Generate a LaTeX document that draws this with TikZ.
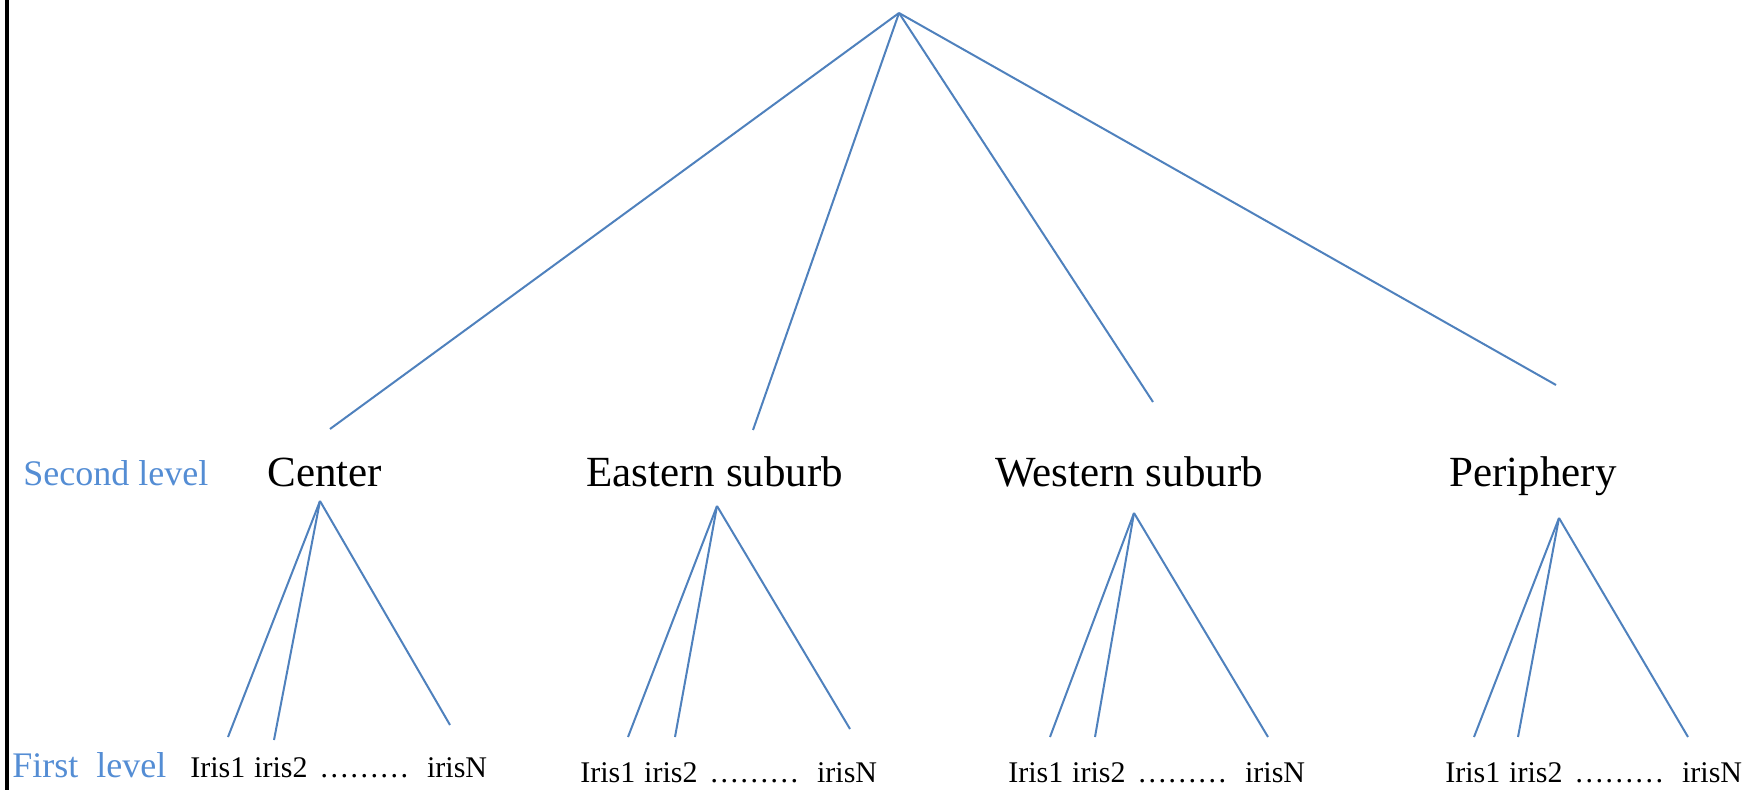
\documentclass[tikz,border=0pt]{standalone}
\usepackage{fontspec}
\setmainfont{Liberation Serif}
\usetikzlibrary{positioning}
\definecolor{branchblue}{HTML}{4F81BD}
\definecolor{levelblue}{HTML}{548DD4}

\begin{document}
\begin{tikzpicture}[x=0.5pt,y=-0.5pt,
      branch/.style={draw=branchblue, line width=1pt}]
  % text styles
  \tikzstyle{region} = [anchor=base west, inner sep=0pt, font=\fontsize{21.5}{24}\selectfont]
  \tikzstyle{leaf} = [anchor=base west, inner sep=0pt, font=\fontsize{15}{18}\selectfont]
  \tikzstyle{levelname} = [anchor=base west, inner sep=0pt, text=levelblue, font=\fontsize{18}{21}\selectfont]

  \useasboundingbox (0,0) rectangle (1744,790);
  \draw[line width=1.6pt] (7,0) -- (7,790);

  % names of the levels
  \node (second) [levelname] at (23,486) {Second level};
  \node (first)  [levelname] at (12,777) {First\ \ level};

  % second level
  \node (center)    [region] at (267,487)  {Center};
  \node (eastern)   [region] at (586,487)  {Eastern suburb};
  \node (western)   [region] at (995,487)  {Western suburb};
  \node (periphery) [region] at (1449,487) {Periphery};

  % first level
  \node (c1) [leaf] at (190,777) {Iris1};
  \node (c2) [leaf, base right=4pt of c1] {iris2};
  \node (cd) [leaf, base right=5.5pt of c2] {………};
  \node (cn) [leaf, base right=8.5pt of cd] {irisN};

  \node (e1) [leaf] at (580,782) {Iris1};
  \node (e2) [leaf, base right=4pt of e1] {iris2};
  \node (ed) [leaf, base right=5.5pt of e2] {………};
  \node (en) [leaf, base right=8.5pt of ed] {irisN};

  \node (w1) [leaf] at (1008,782) {Iris1};
  \node (w2) [leaf, base right=4pt of w1] {iris2};
  \node (wd) [leaf, base right=5.5pt of w2] {………};
  \node (wn) [leaf, base right=8.5pt of wd] {irisN};

  \node (p1) [leaf] at (1445,782) {Iris1};
  \node (p2) [leaf, base right=4pt of p1] {iris2};
  \node (pd) [leaf, base right=5.5pt of p2] {………};
  \node (pn) [leaf, base right=8.5pt of pd] {irisN};

  % ends of the branches
  \coordinate (root)          at (899,13);
  \coordinate (centerTop)     at (330,429);
  \coordinate (easternTop)    at (753,430);
  \coordinate (westernTop)    at (1153,402);
  \coordinate (peripheryTop)  at (1556,385);
  \coordinate (centerFoot)    at (320,501);
  \coordinate (easternFoot)   at (717,506);
  \coordinate (westernFoot)   at (1134,513);
  \coordinate (peripheryFoot) at (1559,518);

  \coordinate (c1end) at (228,737);
  \coordinate (c2end) at (274,740);
  \coordinate (cnend) at (450,725);
  \coordinate (e1end) at (628,737);
  \coordinate (e2end) at (675,737);
  \coordinate (enend) at (850,729);
  \coordinate (w1end) at (1050,737);
  \coordinate (w2end) at (1095,737);
  \coordinate (wnend) at (1268,737);
  \coordinate (p1end) at (1474,737);
  \coordinate (p2end) at (1518,737);
  \coordinate (pnend) at (1688,737);

  % top branches
  \draw[branch] (root) -- (centerTop);
  \draw[branch] (root) -- (easternTop);
  \draw[branch] (root) -- (westernTop);
  \draw[branch] (root) -- (peripheryTop);

  % branches down to the irises
  \draw[branch] (centerFoot) -- (c1end);
  \draw[branch] (centerFoot) -- (c2end);
  \draw[branch] (centerFoot) -- (cnend);
  \draw[branch] (easternFoot) -- (e1end);
  \draw[branch] (easternFoot) -- (e2end);
  \draw[branch] (easternFoot) -- (enend);
  \draw[branch] (westernFoot) -- (w1end);
  \draw[branch] (westernFoot) -- (w2end);
  \draw[branch] (westernFoot) -- (wnend);
  \draw[branch] (peripheryFoot) -- (p1end);
  \draw[branch] (peripheryFoot) -- (p2end);
  \draw[branch] (peripheryFoot) -- (pnend);
\end{tikzpicture}
\end{document}
